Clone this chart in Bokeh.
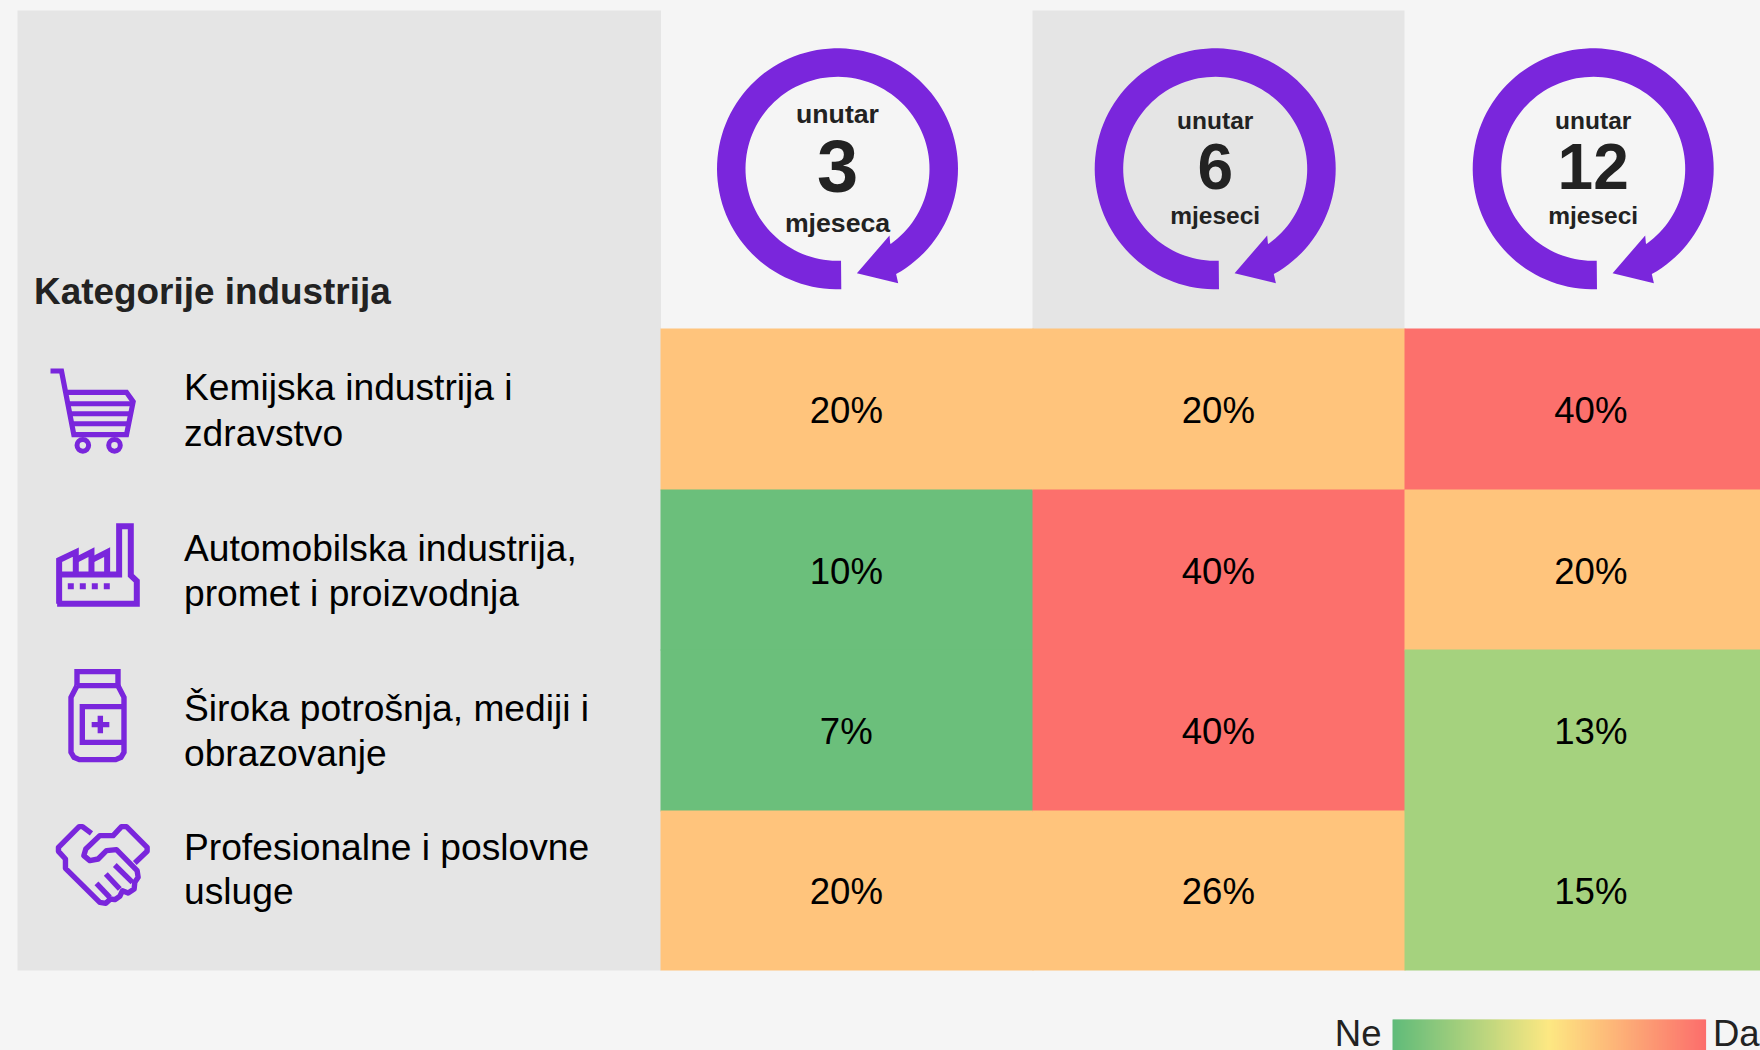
import math
from bokeh.plotting import figure
from bokeh.embed import file_html
from bokeh.resources import INLINE
from bokeh.core.properties import value as V

# ---- data ----
categories = [["Kemijska industrija i", "zdravstvo"],
              ["Automobilska industrija,", "promet i proizvodnja"],
              ["Široka potrošnja, mediji i", "obrazovanje"],
              ["Profesionalne i poslovne", "usluge"]]
horizon_numbers = ["3", "6", "12"]
horizon_words = ["mjeseca", "mjeseci", "mjeseci"]
horizon_prefix = "unutar"
col_3m = [20, 10, 7, 20]
col_6m = [20, 40, 40, 26]
col_12m = [40, 20, 13, 15]
title_text = "Kategorije industrija"
legend_low = "Ne"
legend_high = "Da"

# ---- layout & style ----
BG, PANEL, PURPLE, DARK = "#f5f5f5", "#e5e5e5", "#7a26dc", "#222222"
FONT = V("Liberation Sans")
col_edges = [660, 1032, 1404, 1760]
row_edges = [328, 489, 649, 810, 970]
GREEN, LGREEN, ORANGE, RED = "#6bbf7b", "#a5d27e", "#ffc47c", "#fc706c"
def cell_colour(v):
    return GREEN if v <= 10 else LGREEN if v <= 15 else ORANGE if v <= 30 else RED

p = figure(width=1760, height=1050, x_range=(0, 1760), y_range=(1050, 0),
           output_backend="svg", toolbar_location=None, min_border=0,
           x_axis_type=None, y_axis_type=None, background_fill_color=BG,
           border_fill_color=BG, outline_line_color=None)
p.xgrid.visible = False
p.ygrid.visible = False

def txt(x, y, s, size, color="#000000", style="normal", align="center"):
    p.text([x], [y], text=[s], text_font=FONT, text_font_size=f"{size}px",
           text_color=color, text_font_style=style, text_align=align,
           text_baseline="middle")

p.quad(left=[17], right=[660.5], top=[10], bottom=[970], fill_color=PANEL, line_color=None)
p.quad(left=[col_edges[1]], right=[col_edges[2]], top=[10], bottom=[328.5], fill_color=PANEL, line_color=None)

# cells: each overlaps the next by a pixel so no seam shows between them
for c, col in enumerate([col_3m, col_6m, col_12m]):
    l, r = col_edges[c], col_edges[c + 1]
    for i, v in enumerate(col):
        t, b = row_edges[i], row_edges[i + 1]
        p.quad(left=[l], right=[r + 1], top=[t], bottom=[b + (1 if i < 3 else 0)],
               fill_color=cell_colour(v), line_color=None)
for c, col in enumerate([col_3m, col_6m, col_12m]):
    cx = (col_edges[c] + col_edges[c + 1]) / 2 - 0.2
    if c == 2:
        cx = 1590.3
    for i, v in enumerate(col):
        txt(cx, [410, 570.5, 731, 891][i], f"{v}%", 36.6)

# row labels
for i, (a, b) in enumerate(categories):
    y1 = [386.5, 547, 707.5, 846][i]
    y2 = [432, 592.5, 752, 890.5][i]
    txt(183.5, y1, a, 37.2, align="left")
    txt(183.5, y2, b, 37.2, align="left")
txt(33.5, 291.2, title_text, 36.9, DARK, "bold", "left")

# rings
def ring(cx):
    cy = 168.3
    ro, ri = 120.5, 92
    a0o, a1o = 88.2, 420.9
    a0i, a1i = 87.8, 414.7
    n = 120
    xs, ys = [], []
    for k in range(n + 1):
        a = math.radians(a0o + (a1o - a0o) * k / n)
        xs.append(cx + ro * math.cos(a)); ys.append(cy + ro * math.sin(a))
    for dx, dy in [(60.7, 114.4), (19.4, 104.4), (52, 66.7), (52.7, 74.4)]:
        xs.append(cx + dx); ys.append(cy + dy)
    for k in range(n + 1):
        a = math.radians(a1i + (a0i - a1i) * k / n)
        xs.append(cx + ri * math.cos(a)); ys.append(cy + ri * math.sin(a))
    p.patch(xs, ys, fill_color=PURPLE, line_color=None)

ring_x = [837, 1214.7, 1592.7]
for i, cx in enumerate(ring_x):
    ring(cx)
    if i == 0:
        txt(cx, 113, horizon_prefix, 26.67, DARK, "bold")
        txt(cx, 165.5, horizon_numbers[i], 74, DARK, "bold")
        txt(cx, 222, horizon_words[i], 26.67, DARK, "bold")
    else:
        txt(cx, 120, horizon_prefix, 24.5, DARK, "bold")
        txt(cx, 166, horizon_numbers[i], 64, DARK, "bold")
        txt(cx, 214.5, horizon_words[i], 24.5, DARK, "bold")

# icons: outlines traced in zoomed (3x) pixels
def pl(pts, ox, oy, w, join="miter"):
    p.line([ox + a / 3 for a, _ in pts], [oy + b / 3 for _, b in pts],
           line_color=PURPLE, line_width=w, line_join=join, line_cap="butt")
def sq(x0, y0, x1, y1, ox, oy):
    p.quad(left=[ox + x0 / 3], right=[ox + x1 / 3], top=[oy + y0 / 3], bottom=[oy + y1 / 3],
           fill_color=PURPLE, line_color=None)

# cart
pl([(150, 213), (183, 213), (220, 404), (378, 404), (398, 305), (378, 277), (195, 277)], 0, 299.5, 5.2)
pl([(205, 311), (395, 311)], 0, 299.5, 5)
pl([(210, 341), (388, 341)], 0, 299.5, 5)
pl([(215, 371), (382, 371)], 0, 299.5, 5)
p.circle([247 / 3, 342 / 3], [299.5 + 436 / 3] * 2, radius=5.8, fill_color=None,
         line_color=PURPLE, line_width=5)
# factory
oy = 299
pl([(172, 913), (411, 913), (411, 845), (393, 828), (393, 680), (358, 680), (358, 825), (178, 825)], -0.7, oy, 6)
pl([(178, 913), (178, 782), (228, 758), (228, 825)], -0.7, oy, 6)
pl([(228, 782), (275, 758), (275, 825)], -0.7, oy, 6)
pl([(275, 782), (322, 758), (322, 825)], -0.7, oy, 6)
for x0 in [204, 240, 276, 312]:
    sq(x0, 851, x0 + 18, 869, -0.7, oy)
# bottle
oy = 638.5
pl([(231, 140), (231, 98), (354, 98), (354, 140), (231, 140)], -0.5, oy, 5.4)
pl([(231, 140), (213, 175), (213, 340), (222, 355), (238, 362), (347, 362), (363, 355), (372, 340), (372, 175), (354, 140)], -0.5, oy, 5.4)
pl([(372, 203), (247, 203), (247, 310), (372, 310)], -0.5, oy, 5.4)
pl([(275, 257), (328, 257)], -0.5, oy, 5.4)
pl([(301, 230), (301, 283)], -0.5, oy, 5.4)
# handshake
hs = [(275, 583), (248, 563), (238, 563), (176, 625), (176, 637), (197, 660), (197, 688),
      (300, 790), (318, 793), (332, 780), (345, 782), (360, 772), (368, 755), (385, 762), (403, 750),
      (405, 730), (415, 715), (412, 695), (350, 632), (320, 635), (295, 660), (270, 665), (252, 650),
      (258, 630), (300, 590), (340, 590), (365, 563), (380, 563), (442, 625), (442, 637), (405, 672)]
pl(hs, -0.7, oy, 5.4, "round")
pl([(290, 733), (330, 775)], -0.7, oy, 5.4)
pl([(318, 705), (360, 750)], -0.7, oy, 5.4)
pl([(345, 678), (398, 730)], -0.7, oy, 5.4)

# gradient legend
stops = [(0.0, (95, 187, 122)), (0.5, (253, 232, 130)), (1.0, (252, 110, 108))]
lx0, lx1 = 1392, 1705
n = 313
for k in range(n):
    f = (k + .5) / n
    (a, ca), (b, cb) = (stops[0], stops[1]) if f < .5 else (stops[1], stops[2])
    m = (f - a) / (b - a)
    col = "#%02x%02x%02x" % tuple(round(ca[j] + (cb[j] - ca[j]) * m) for j in range(3))
    p.quad(left=[lx0 + k], right=[lx0 + k + 1.6], top=[1019], bottom=[1051], fill_color=col, line_color=None)
txt(1381, 1032.5, legend_low, 36.5, DARK, align="right")
txt(1712.5, 1032.5, legend_high, 36.5, DARK, align="left")

html = file_html(p, INLINE)
html = html.replace("<body>", f'<body style="margin:0;background:{BG};overflow:hidden;height:1050px">')
html = html.replace("<html", '<html style="height:1050px;overflow:hidden"', 1)
open("out.html", "w").write(html)
